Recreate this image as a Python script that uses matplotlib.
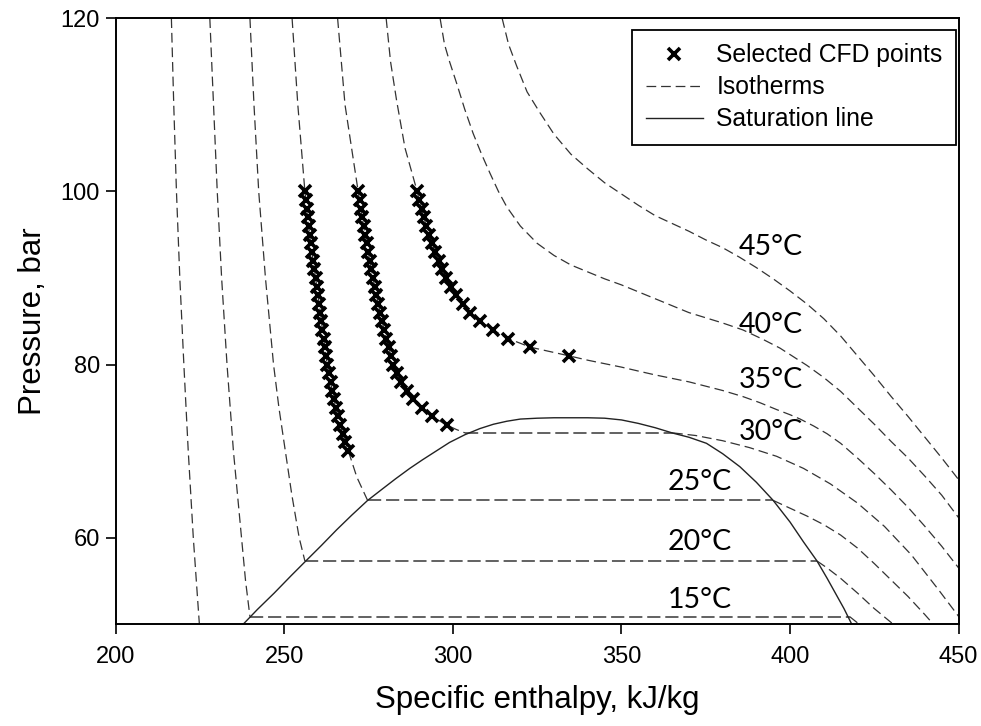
import matplotlib
matplotlib.use("Agg")
import matplotlib.pyplot as plt
from matplotlib.lines import Line2D

plt.rcParams["lines.scale_dashes"] = False

# CFD points (pressure in bar, enthalpy in kJ/kg)
cfd_p_25 = [100, 99, 98, 97, 96, 95, 94, 93, 92, 91, 90, 89, 88, 87, 86, 85,
            84, 83, 82, 81, 80, 79, 78, 77, 76, 75, 74, 73, 72, 71, 70]
cfd_h_25 = [256.1, 256.4, 256.6, 256.9, 257.2, 257.5, 257.8, 258.2, 258.5, 258.9,
            259.3, 259.6, 260.0, 260.3, 260.7, 261.0, 261.3, 261.7, 262.0, 262.4,
            262.7, 263.2, 263.7, 264.2, 264.7, 265.3, 265.9, 266.6, 267.3, 268.1, 269.0]
cfd_p_30 = [100, 99, 98, 97, 96, 95, 94, 93, 92, 91, 90, 89, 88, 87, 86, 85,
            84, 83, 82, 81, 80, 79, 78, 77, 76, 75, 74, 73]
cfd_h_30 = [271.9, 272.3, 272.7, 273.1, 273.5, 274.0, 274.4, 274.9, 275.3, 275.8,
            276.3, 276.8, 277.3, 277.9, 278.4, 279.0, 279.6, 280.3, 281.0, 281.6,
            282.3, 283.4, 284.7, 286.4, 288.3, 290.7, 293.8, 298.2]
cfd_p_35 = [100, 99, 98, 97, 96, 95, 94, 93, 92, 91, 90, 89, 88, 87, 86, 85,
            84, 83, 82, 81]
cfd_h_35 = [289.4, 290.0, 290.7, 291.4, 292.1, 292.9, 293.8, 294.8, 295.8, 296.9,
            298.0, 299.4, 301.0, 302.9, 305.0, 308.0, 311.8, 316.4, 323.0, 334.5]

# isotherms (liquid / supercritical branch)
iso10_p = [120, 110, 100, 90, 80, 70, 60, 50]
iso10_h = [216.5, 217.2, 218.0, 219.0, 220.2, 221.5, 223.0, 224.8]
iso15_p = [120, 110, 100, 90, 80, 70, 60, 55, 50.87]
iso15_h = [227.9, 229.0, 230.1, 231.4, 233.0, 234.9, 237.3, 238.5, 239.8]
iso20_p = [120, 110, 100, 90, 80, 75, 70, 65, 60, 57.3]
iso20_h = [239.8, 241.0, 242.4, 244.4, 246.8, 248.4, 250.3, 252.2, 254.4, 256.1]
iso25_top_p = [120, 110]
iso25_top_h = [252.3, 254.0]
iso25_bot_p = [67.0, 64.3]
iso25_bot_h = [271.5, 274.7]
iso30_top_p = [120, 110]
iso30_top_h = [265.8, 268.0]
iso30_bot_p = [72.5, 72.1]
iso30_bot_h = [301.0, 303.6]
iso35_top_p = [120, 115, 110.5, 105]
iso35_top_h = [280.2, 281.5, 283.3, 285.8]
iso35_bot_h = [340, 345, 350, 355.5, 360, 365, 370, 375, 380, 386, 391, 396, 400,
               403, 407, 411, 415, 420, 425, 430, 435, 440, 445, 450]
iso35_bot_p = [80.5, 80.1, 79.7, 79.2, 78.8, 78.4, 78.0, 77.5, 77.0, 76.3, 75.6,
               74.8, 74.2, 73.7, 72.9, 72.0, 70.9, 69.2, 67.4, 65.5, 63.5, 61.3, 59.0, 56.5]
iso40_h = [296.2, 297.5, 299, 301.1, 303.5, 306, 308.5, 311, 313.5, 316, 320, 325,
           330, 335, 340, 345, 350, 355, 360, 365, 370, 375, 380, 386, 392, 397, 401,
           405, 410, 415, 420, 425, 430, 435, 440, 445, 450]
iso40_p = [120, 117, 115, 112.5, 109.5, 106.7, 104.3, 102.1, 100, 98.2, 96.0, 94.0,
           92.6, 91.5, 90.7, 89.9, 89.2, 88.4, 87.6, 86.8, 86.0, 85.4, 84.8, 84.0, 82.9,
           81.9, 80.9, 79.9, 78.5, 76.9, 75.0, 73.1, 71.1, 69.2, 67.1, 64.9, 62.3]
iso45_h = [314.6, 316.5, 318.9, 322, 325.8, 330, 335, 340, 345, 350, 355, 360, 365,
           370, 375, 380, 385, 390, 395, 400, 405, 410, 415, 420, 425, 430, 435, 440,
           445, 450]
iso45_p = [120, 117, 114.5, 111.5, 109.1, 106.6, 104.3, 102.6, 101.0, 99.7, 98.4,
           97.2, 96.3, 95.4, 94.4, 93.5, 92.4, 91.2, 89.9, 88.5, 87.0, 85.3, 83.3, 81.0,
           78.7, 76.3, 74.0, 71.6, 69.2, 66.7]

# vapour branches
vap15_h = [417.7, 420.5]
vap15_p = [50.87, 50.0]
vap20_h = [408.0, 411, 415, 420, 425, 430.6]
vap20_p = [57.3, 56.5, 55.3, 53.6, 51.8, 50.0]
vap25_h = [395.0, 400, 405, 410, 415, 420, 425, 430, 435, 440, 442.5]
vap25_p = [64.3, 63.4, 62.5, 61.5, 60.3, 58.8, 57.0, 55.1, 53.2, 51.1, 50.0]
vap30_h = [365.3, 372, 380, 388, 396, 404, 412, 420, 428, 436, 444, 450]
vap30_p = [72.1, 71.8, 71.2, 70.4, 69.4, 68.0, 66.2, 64.0, 61.3, 58.0, 54.0, 50.9]

# two-phase (horizontal) parts: pressure, liquid h, vapour h
sat_temps_p = [50.87, 57.3, 64.3, 72.1]
sat_liq_h = [239.8, 256.1, 274.7, 303.6]
sat_vap_h = [417.7, 408.0, 395.0, 365.3]

# saturation dome
sat_h = [237.8, 242, 247, 252, 256.1, 261, 265.5, 270, 274.7, 279, 283, 287.2, 291,
         295, 299, 303.6, 308, 312, 316, 320, 325, 330, 335, 340, 345, 350, 355, 360,
         365.3, 370, 375.2, 380, 385.1, 390, 395.0, 400, 404, 408.0, 411, 414, 416, 418.3]
sat_p = [50.0, 51.7, 53.6, 55.6, 57.2, 59.1, 60.9, 62.6, 64.3, 65.6, 66.8, 68.0, 69.0,
         70.0, 71.0, 71.9, 72.6, 73.1, 73.45, 73.7, 73.8, 73.85, 73.85, 73.85, 73.8,
         73.6, 73.2, 72.7, 72.07, 71.6, 70.9, 69.7, 68.2, 66.4, 64.3, 61.8, 59.5, 57.3,
         55.3, 53.2, 51.8, 50.0]

labels = ["45°C", "40°C", "35°C", "30°C", "25°C", "20°C", "15°C"]
label_h = [394.4, 394.4, 394.4, 394.4, 373.2, 373.2, 373.2]
label_p = [92.7, 83.6, 77.3, 71.3, 65.5, 58.6, 51.85]

iso_kw = dict(color="#333333", lw=0.9, dashes=(7, 3.5))

fig = plt.figure(figsize=(9.81, 7.26), dpi=100)
ax = fig.add_axes([0.118, 0.1402, 0.8592, 0.8346])

ax.plot(iso10_h, iso10_p, **iso_kw)
ax.plot(iso15_h, iso15_p, **iso_kw)
ax.plot(iso20_h, iso20_p, **iso_kw)
ax.plot(iso25_top_h + cfd_h_25 + iso25_bot_h, iso25_top_p + cfd_p_25 + iso25_bot_p, **iso_kw)
ax.plot(iso30_top_h + cfd_h_30 + iso30_bot_h, iso30_top_p + cfd_p_30 + iso30_bot_p, **iso_kw)
ax.plot(iso35_top_h + cfd_h_35 + iso35_bot_h, iso35_top_p + cfd_p_35 + iso35_bot_p, **iso_kw)
ax.plot(iso40_h, iso40_p, **iso_kw)
ax.plot(iso45_h, iso45_p, **iso_kw)
for vh, vp in [(vap15_h, vap15_p), (vap20_h, vap20_p), (vap25_h, vap25_p), (vap30_h, vap30_p)]:
    ax.plot(vh, vp, **iso_kw)
for p, hl, hv in zip(sat_temps_p, sat_liq_h, sat_vap_h):
    ax.plot([hl, hv], [p, p], color="#555555", lw=1.3, dashes=(9.5, 3.5))

ax.plot(sat_h, sat_p, color="#222222", lw=1.0)

mk = dict(ls="none", marker="x", color="black", ms=8.5, mew=2.6)
ax.plot(cfd_h_25, cfd_p_25, **mk)
ax.plot(cfd_h_30, cfd_p_30, **mk)
ax.plot(cfd_h_35, cfd_p_35, **mk)

for t, x, y in zip(labels, label_h, label_p):
    ax.text(x, y, t, fontfamily="Lato", fontsize=20.5, ha="center", va="baseline")

ax.set_xlim(200, 450)
ax.set_ylim(50, 120)
ax.set_xticks([200, 250, 300, 350, 400, 450])
ax.set_yticks([60, 80, 100, 120])
for s in ax.spines.values():
    s.set_linewidth(1.4)
ax.tick_params(direction="out", length=7, width=1.2, labelsize=17)
ax.tick_params(axis="x", pad=9)
ax.tick_params(axis="y", pad=4.5)
for lab in ax.get_xticklabels() + ax.get_yticklabels():
    lab.set_fontfamily("Liberation Sans")
ax.set_xlabel("Specific enthalpy, kJ/kg", fontfamily="Liberation Sans", fontsize=22.5, labelpad=12)
ax.set_ylabel("Pressure, bar", fontfamily="Liberation Sans", fontsize=22.5, labelpad=9)

handles = [Line2D([], [], ls="none", marker="x", color="black", ms=8, mew=2.6),
           Line2D([], [], **iso_kw),
           Line2D([], [], color="#222222", lw=1.0)]
leg = ax.legend(handles, ["Selected CFD points", "Isotherms", "Saturation line"],
                loc="upper right", bbox_to_anchor=(0.997, 0.981), borderaxespad=0,
                prop={"family": "Liberation Sans", "size": 17.8}, fancybox=False,
                edgecolor="black", framealpha=1, handlelength=2.3, handletextpad=0.55,
                borderpad=0.55, labelspacing=0.32)
leg.get_frame().set_linewidth(1.3)

fig.savefig("out.png", dpi=100)
